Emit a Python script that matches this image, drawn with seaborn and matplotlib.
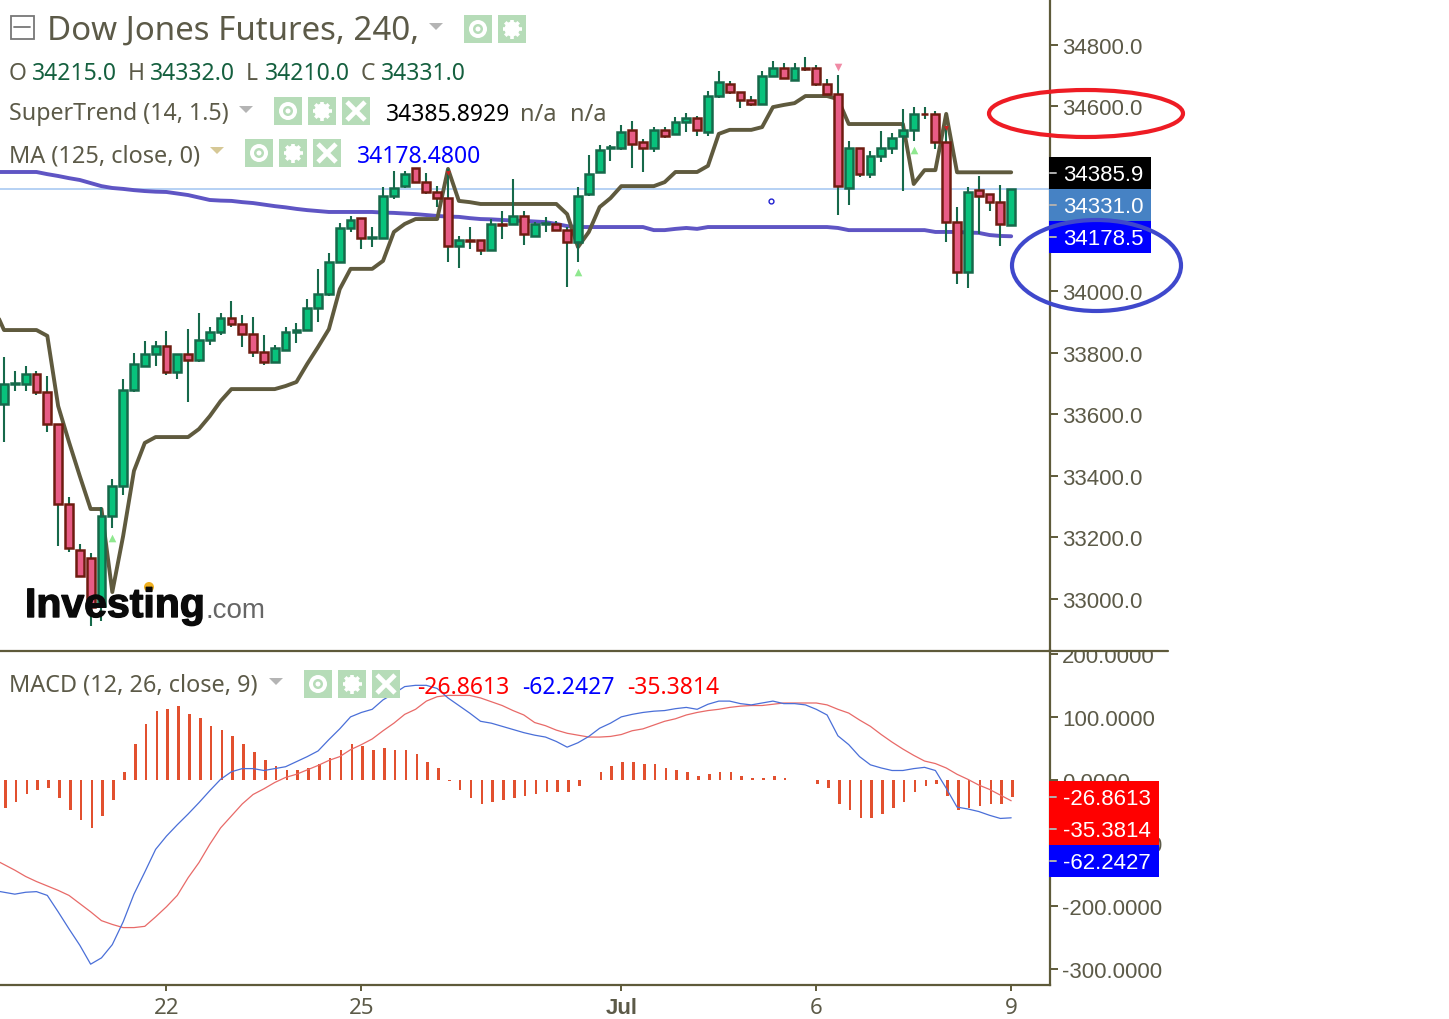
import matplotlib
matplotlib.use('Agg')
import numpy as np
import seaborn as sns
import matplotlib.pyplot as plt
import matplotlib.patheffects as pe
from matplotlib.patches import Rectangle, Ellipse, Circle

opens = [33633, 33698, 33698, 33730, 33672, 33567, 33307, 33158, 33132, 32976,
         33268, 33366, 33678, 33756, 33795, 33821, 33737, 33795, 33776, 33841,
         33867, 33912, 33893, 33860, 33802, 33769, 33808, 33867, 33873, 33945,
         33990, 34094, 34205, 34237, 34172, 34172, 34309, 34341, 34400, 34354,
         34322, 34302, 34146, 34166, 34166, 34133, 34218, 34218, 34244, 34179,
         34218, 34218, 34198, 34159, 34315, 34387, 34465, 34465, 34524, 34485,
         34465, 34524, 34511, 34550, 34563, 34517, 34634, 34673, 34647, 34621,
         34608, 34699, 34725, 34686, 34725, 34725, 34673, 34641, 34335, 34465,
         34380, 34439, 34465, 34504, 34524, 34576, 34576, 34485, 34224, 34062,
         34328, 34315, 34289, 34215]
highs = [33785, 33740, 33756, 33740, 33724, 33567, 33330, 33177, 33148, 33298,
         33389, 33714, 33798, 33837, 33837, 33870, 33795, 33876, 33928, 33883,
         33928, 33967, 33922, 33915, 33857, 33824, 33883, 33896, 33974, 34072,
         34124, 34221, 34244, 34237, 34208, 34338, 34390, 34390, 34400, 34384,
         34341, 34397, 34179, 34208, 34166, 34234, 34260, 34364, 34260, 34224,
         34241, 34228, 34208, 34338, 34442, 34475, 34475, 34540, 34553, 34494,
         34533, 34533, 34566, 34579, 34569, 34650, 34715, 34683, 34647, 34634,
         34715, 34748, 34741, 34741, 34761, 34735, 34689, 34702, 34488, 34465,
         34455, 34520, 34514, 34592, 34598, 34598, 34585, 34537, 34273, 34338,
         34374, 34315, 34345, 34332]
lows = [33509, 33675, 33675, 33662, 33541, 33171, 33151, 33073, 32911, 32927,
        33229, 33337, 33672, 33756, 33756, 33727, 33714, 33639, 33769, 33824,
        33857, 33883, 33818, 33785, 33759, 33769, 33808, 33831, 33873, 33899,
        33984, 34094, 34192, 34137, 34143, 34172, 34299, 34335, 34354, 34315,
        34273, 34094, 34075, 34137, 34117, 34133, 34169, 34218, 34150, 34179,
        34192, 34198, 34013, 34094, 34309, 34387, 34423, 34459, 34400, 34387,
        34452, 34498, 34511, 34517, 34504, 34504, 34628, 34641, 34595, 34602,
        34608, 34699, 34693, 34686, 34715, 34667, 34641, 34247, 34280, 34371,
        34367, 34420, 34446, 34325, 34488, 34559, 34462, 34159, 34023, 34010,
        34185, 34260, 34146, 34210]
closes = [33698, 33700, 33730, 33672, 33567, 33307, 33164, 33073, 32972, 33268,
          33366, 33678, 33763, 33795, 33821, 33737, 33795, 33776, 33841, 33867,
          33912, 33893, 33860, 33802, 33769, 33815, 33867, 33873, 33945, 33990,
          34094, 34205, 34231, 34172, 34174, 34309, 34335, 34380, 34354, 34322,
          34302, 34146, 34166, 34164, 34133, 34218, 34216, 34244, 34185, 34218,
          34220, 34198, 34159, 34309, 34380, 34459, 34467, 34517, 34478, 34465,
          34524, 34504, 34550, 34563, 34524, 34634, 34680, 34647, 34621, 34608,
          34699, 34725, 34693, 34725, 34723, 34673, 34641, 34341, 34465, 34380,
          34439, 34465, 34498, 34524, 34576, 34574, 34485, 34224, 34062, 34322,
          34309, 34289, 34218, 34331]

# line series start one bar before the first candle, so they run off the left edge
supertrend = [33951, 33873, 33873, 33873, 33873, 33854, 33626, 33509, 33398, 33291,
              33291, 33021, 33203, 33415, 33506, 33525, 33525, 33525, 33525, 33551,
              33593, 33642, 33681, 33681, 33681, 33681, 33681, 33691, 33704, 33763,
              33818, 33876, 34006, 34072, 34072, 34072, 34098, 34192, 34218, 34234,
              34234, 34234, 34397, 34293, 34289, 34283, 34283, 34283, 34283, 34283,
              34283, 34283, 34283, 34250, 34143, 34192, 34273, 34302, 34341, 34341,
              34341, 34341, 34354, 34387, 34387, 34387, 34407, 34511, 34524, 34524,
              34524, 34533, 34598, 34605, 34611, 34634, 34634, 34634, 34624, 34543,
              34543, 34543, 34543, 34543, 34543, 34348, 34393, 34393, 34576, 34386,
              34386, 34386, 34386, 34386, 34386]
ma125 = [34387, 34387, 34387, 34387, 34387, 34380, 34374, 34367, 34361, 34351,
         34341, 34335, 34332, 34328, 34325, 34323, 34322, 34317, 34312, 34304,
         34296, 34294, 34293, 34289, 34286, 34281, 34276, 34272, 34267, 34263,
         34260, 34257, 34257, 34257, 34257, 34257, 34255, 34254, 34252, 34250,
         34247, 34244, 34242, 34241, 34237, 34234, 34233, 34231, 34229, 34228,
         34226, 34224, 34218, 34211, 34208, 34208, 34208, 34208, 34208, 34208,
         34208, 34198, 34198, 34202, 34205, 34202, 34208, 34208, 34208, 34208,
         34208, 34208, 34208, 34208, 34208, 34208, 34208, 34208, 34205, 34198,
         34198, 34198, 34198, 34198, 34198, 34198, 34198, 34192, 34192, 34192,
         34190, 34189, 34182, 34179, 34178]

macd_line = [-175, -178, -181, -178, -177, -183, -209, -236, -262, -292,
             -282, -261, -225, -181, -146, -110, -89, -71, -54, -36,
             -17, 1, 13, 18, 18, 15, 18, 21, 29, 37,
             46, 64, 81, 100, 107, 112, 127, 137, 148, 150,
             150, 145, 130, 118, 106, 93, 90, 85, 80, 75,
             71, 68, 61, 52, 59, 69, 82, 90, 100, 104,
             107, 109, 110, 113, 115, 112, 120, 125, 125, 121,
             119, 122, 125, 121, 121, 119, 112, 103, 70, 56,
             37, 24, 19, 15, 15, 18, 20, 15, -13, -43,
             -46, -50, -56, -61, -60]
signal_line = [-125, -134, -143, -153, -161, -168, -175, -183, -196, -209,
               -223, -229, -234, -234, -232, -217, -201, -183, -155, -131,
               -102, -76, -57, -38, -23, -14, -4, 4, 9, 16,
               23, 31, 37, 48, 56, 65, 78, 90, 104, 112,
               125, 132, 134, 134, 134, 130, 124, 118, 110, 103,
               91, 86, 79, 74, 71, 68, 68, 69, 72, 78,
               81, 87, 93, 97, 103, 107, 110, 112, 115, 117,
               118, 118, 120, 122, 122, 122, 122, 119, 112, 106,
               95, 85, 72, 60, 49, 39, 30, 26, 19, 9,
               1, -8, -15, -24, -33]
histogram = [-44, -35, -22, -16, -13, -28, -47, -63, -76, -57,
             -32, 13, 57, 88, 110, 113, 117, 104, 98, 85,
             79, 69, 57, 44, 32, 22, 16, 15, 19, 25,
             35, 47, 57, 54, 47, 50, 47, 47, 41, 28,
             19, -2, -16, -28, -38, -35, -32, -28, -25, -22,
             -19, -19, -19, -9, 0, 13, 22, 28, 28, 25,
             25, 19, 16, 13, 6, 9, 13, 13, 6, 3,
             3, 6, 3, 0, 0, -6, -13, -38, -47, -60,
             -60, -54, -44, -35, -19, -9, -6, -25, -47, -44,
             -41, -38, -38, -27]

buy_bars = [10, 53, 84]
buy_prices = [33197, 34062, 34459]
sell_bars = [77]
sell_prices = [34728]
flip_bars = [41, 87]
flip_prices = [34385, 34530]
last_close = 34331

date_ticks = [15, 33, 57, 75, 93]
date_labels = ['22', '25', 'Jul', '6', '9']
price_ticks = [33000, 33200, 33400, 33600, 33800, 34000, 34200, 34400, 34600, 34800]
macd_ticks = [-300, -200, -100, 0, 100, 200]

OLIVE = '#5e5a3a'
TEXT = '#5c5a48'
GREEN = '#08c27c'
GREEN_EDGE = '#16694a'
RED = '#e85c86'
RED_EDGE = '#6e1c10'
ICON = '#b6dcb8'
UI_FONT = 'Noto Sans'
AXIS_FONT = 'Liberation Sans'

sns.set_theme(style='white')
plt.rcParams['font.family'] = [UI_FONT, 'DejaVu Sans']

W, H = 1449, 1020
fig = plt.figure(figsize=(W / 100, H / 100), dpi=100)
ax = fig.add_axes([0, 1 - 651 / H, 1050 / W, 651 / H])
ax2 = fig.add_axes([0, 1 - 986 / H, 1050 / W, 335 / H])

bars = np.arange(len(closes))
line_x = np.arange(-1, len(closes))
opens_a, closes_a = np.array(opens), np.array(closes)
up = closes_a >= opens_a

# price panel
ax.axhline(last_close, color='#a9c9f2', lw=1.2, zorder=1)
sns.lineplot(x=line_x, y=ma125, color='#5f55c4', linewidth=2.8, ax=ax, zorder=2)
sns.lineplot(x=line_x, y=supertrend, color='#5f5a3e', linewidth=2.8, ax=ax, zorder=2)
ax.vlines(bars, lows, highs, color=GREEN_EDGE, lw=1.5, zorder=3)
ax.bar(bars[up], closes_a[up] - opens_a[up], bottom=opens_a[up], width=0.72,
       color=GREEN, edgecolor=GREEN_EDGE, linewidth=1.8, zorder=4)
ax.bar(bars[~up], closes_a[~up] - opens_a[~up], bottom=opens_a[~up], width=0.72,
       color=RED, edgecolor=RED_EDGE, linewidth=1.8, zorder=4)
sns.scatterplot(x=buy_bars, y=buy_prices, marker='^', s=30, color='#8fe88f', linewidth=0, ax=ax, zorder=5)
sns.scatterplot(x=sell_bars, y=sell_prices, marker='v', s=30, color='#f08aa5', linewidth=0, ax=ax, zorder=5)
sns.scatterplot(x=flip_bars, y=flip_prices, marker='v', s=12, color='#d02020', linewidth=0, ax=ax, zorder=5)
ax.plot([70.8], [34293], marker='o', ms=3.5, mfc='white', mec='#2020d0', mew=1, zorder=5)

ax.set_xlim(-4 / 10.83, 1046 / 10.83)
ax.set_ylim(34000 - 359 * 3.252, 34000 + 292 * 3.252)
ax.set_yticks(price_ticks)
ax.set_yticklabels([f'{t:.1f}' for t in price_ticks])
ax.set_xticks([])

# MACD panel, the bars sit a touch right of the candles in the original
ax2.bar(bars + 0.12, histogram, width=0.24, color='#e2502f', linewidth=0, zorder=2)
sns.lineplot(x=line_x, y=signal_line, color='#e86a68', linewidth=0.9, ax=ax2, zorder=3)
sns.lineplot(x=line_x, y=macd_line, color='#4a6fd8', linewidth=0.9, ax=ax2, zorder=3)
ax2.set_xlim(ax.get_xlim())
ax2.set_ylim(-325, 206)
ax2.set_yticks(macd_ticks)
ax2.set_yticklabels([f'{t:.4f}' for t in macd_ticks])
ax2.set_xticks(date_ticks)
ax2.set_xticklabels(date_labels)

for a in (ax, ax2):
    a.patch.set_alpha(0)
    a.set_xlabel('')
    a.set_ylabel('')
    a.yaxis.tick_right()
    for side in ('left', 'top'):
        a.spines[side].set_visible(False)
    a.spines['bottom'].set_visible(a is ax2)
    for side in ('right', 'bottom'):
        a.spines[side].set_color(OLIVE)
        a.spines[side].set_linewidth(1.6)
    a.tick_params(axis='y', right=True, length=6, width=1.4, color=OLIVE, pad=2.6,
                  labelsize=16, labelcolor=TEXT)
    for lab in a.get_yticklabels():
        lab.set_fontfamily(AXIS_FONT)
ax2.tick_params(axis='x', bottom=True, length=4, width=1.4, color=OLIVE, pad=5,
                labelsize=16, labelcolor=TEXT)
jul = ax2.get_xticklabels()[2]
jul.set_fontfamily(AXIS_FONT)
jul.set_fontweight('bold')

# everything drawn in screen pixels (legend rows, price flags, hand drawn circles)
ui = fig.add_axes([0, 0, 1, 1], zorder=10)
ui.set_xlim(0, W)
ui.set_ylim(H, 0)
ui.axis('off')


def icon(x, y, kind, size=28):
    ui.add_patch(Rectangle((x, y), size, size, fc=ICON, ec='none'))
    cx, cy = x + size / 2, y + size / 2
    if kind == 'eye':
        ui.add_patch(Circle((cx, cy), 9, fc='white', ec='none'))
        ui.add_patch(Circle((cx, cy), 5, fc=ICON, ec='none'))
        ui.add_patch(Circle((cx, cy), 2.5, fc='white', ec='none'))
    elif kind == 'gear':
        for ang in np.arange(0, 360, 45):
            dx, dy = 9.5 * np.cos(np.radians(ang)), 9.5 * np.sin(np.radians(ang))
            ui.plot([cx, cx + dx], [cy, cy + dy], color='white', lw=2.6, solid_capstyle='butt')
        ui.add_patch(Circle((cx, cy), 7.5, fc='white', ec='none'))
        ui.add_patch(Circle((cx, cy), 3.5, fc=ICON, ec='none'))
    else:
        ui.plot([x + 5, x + size - 5], [y + 5, y + size - 5], color='white', lw=3.4, solid_capstyle='butt')
        ui.plot([x + 5, x + size - 5], [y + size - 5, y + 5], color='white', lw=3.4, solid_capstyle='butt')


def caret(x, y, color='#b4b4b4'):
    ui.fill([x - 7, x + 7, x], [y - 3, y - 3, y + 4], color=color, lw=0)


def label(x, y, s, color=TEXT, size=16.5, **kw):
    ui.text(x, y, s, color=color, fontsize=size, va='center', ha='left', **kw)


ui.add_patch(Rectangle((10.5, 16.5), 23, 23, fc='none', ec='#777777', lw=1.3))
ui.plot([14, 30], [28, 28], color='#777777', lw=1.3)
label(47, 31, 'Dow Jones Futures, 240,', size=23.8)
caret(436, 27)
icon(464, 16, 'eye')
icon(498, 16, 'gear')

ohlc_green = '#15603f'
for lx, ls, vx, vs in [(9, 'O', 32, '34215.0'), (128, 'H', 150, '34332.0'),
                       (246, 'L', 265, '34210.0'), (361, 'C', 381, '34331.0')]:
    label(lx, 74, ls)
    label(vx, 74, vs, color=ohlc_green)

label(9, 114, 'SuperTrend (14, 1.5)', size=16.7)
caret(246, 110)
icon(274, 98, 'eye')
icon(308, 98, 'gear')
icon(342, 98, 'x')
label(386, 115, '34385.8929', color='black')
label(520, 115, 'n/a', size=17)
label(570, 115, 'n/a', size=17)

label(9, 156, 'MA (125, close, 0)', size=16.9)
caret(217, 151, '#d6c896')
icon(245, 140, 'eye')
icon(279, 140, 'gear')
icon(313, 140, 'x')
label(357, 157, '34178.4800', color='#0000ff')

label(9, 686, 'MACD (12, 26, close, 9)', size=16.9)
caret(276, 682)
icon(304, 671, 'eye')
icon(338, 671, 'gear')
icon(372, 671, 'x')
label(417, 688, '-26.8613', color='#ff0000')
label(522, 688, '-62.2427', color='#0000ff')
label(627, 688, '-35.3814', color='#ff0000')

# watermark
ui.text(25, 618, 'Investing', fontsize=29.5, fontweight='bold', family='Liberation Sans',
        color='#0a0a0a', va='baseline', ha='left',
        path_effects=[pe.withStroke(linewidth=1.0, foreground='#0a0a0a')])
ui.text(205, 618, '.com', fontsize=20, family='Liberation Sans', color='#666666',
        va='baseline', ha='left')
ui.add_patch(Circle((149, 588), 5, fc='#f0b020', ec='none'))

# panel divider hides the top of the 200 label
ui.add_patch(Rectangle((1052, 636), 118, 15, fc='white', ec='none'))
ui.plot([0, 1168], [651.5, 651.5], color=OLIVE, lw=1.6)


def flag(y0, y1, x1, s, color):
    ui.add_patch(Rectangle((1049, y0), x1 - 1049, y1 - y0, fc=color, ec='none'))
    ui.plot([1050, 1056], [(y0 + y1) / 2] * 2, color='#b0b0b0', lw=1.4)
    ui.text(1063, (y0 + y1) / 2 + 1.5, s, color='white', fontsize=16, family=AXIS_FONT, va='center', ha='left')


flag(158, 190, 1151, '34385.9', 'black')
flag(190, 222, 1151, '34331.0', '#4682c4')
flag(222, 254, 1151, '34178.5', '#0000ff')
flag(782, 814, 1159, '-26.8613', '#ff0000')
flag(814, 846, 1159, '-35.3814', '#ff0000')
flag(846, 878, 1159, '-62.2427', '#0000ff')

ui.add_patch(Ellipse((1086, 114.5), 194, 47, fc='none', ec='#ee1c24', lw=3.0))
ui.add_patch(Ellipse((1096.5, 266.5), 169, 91, fc='none', ec='#3f48cc', lw=3.0))

fig.savefig('out.png', dpi=100)
